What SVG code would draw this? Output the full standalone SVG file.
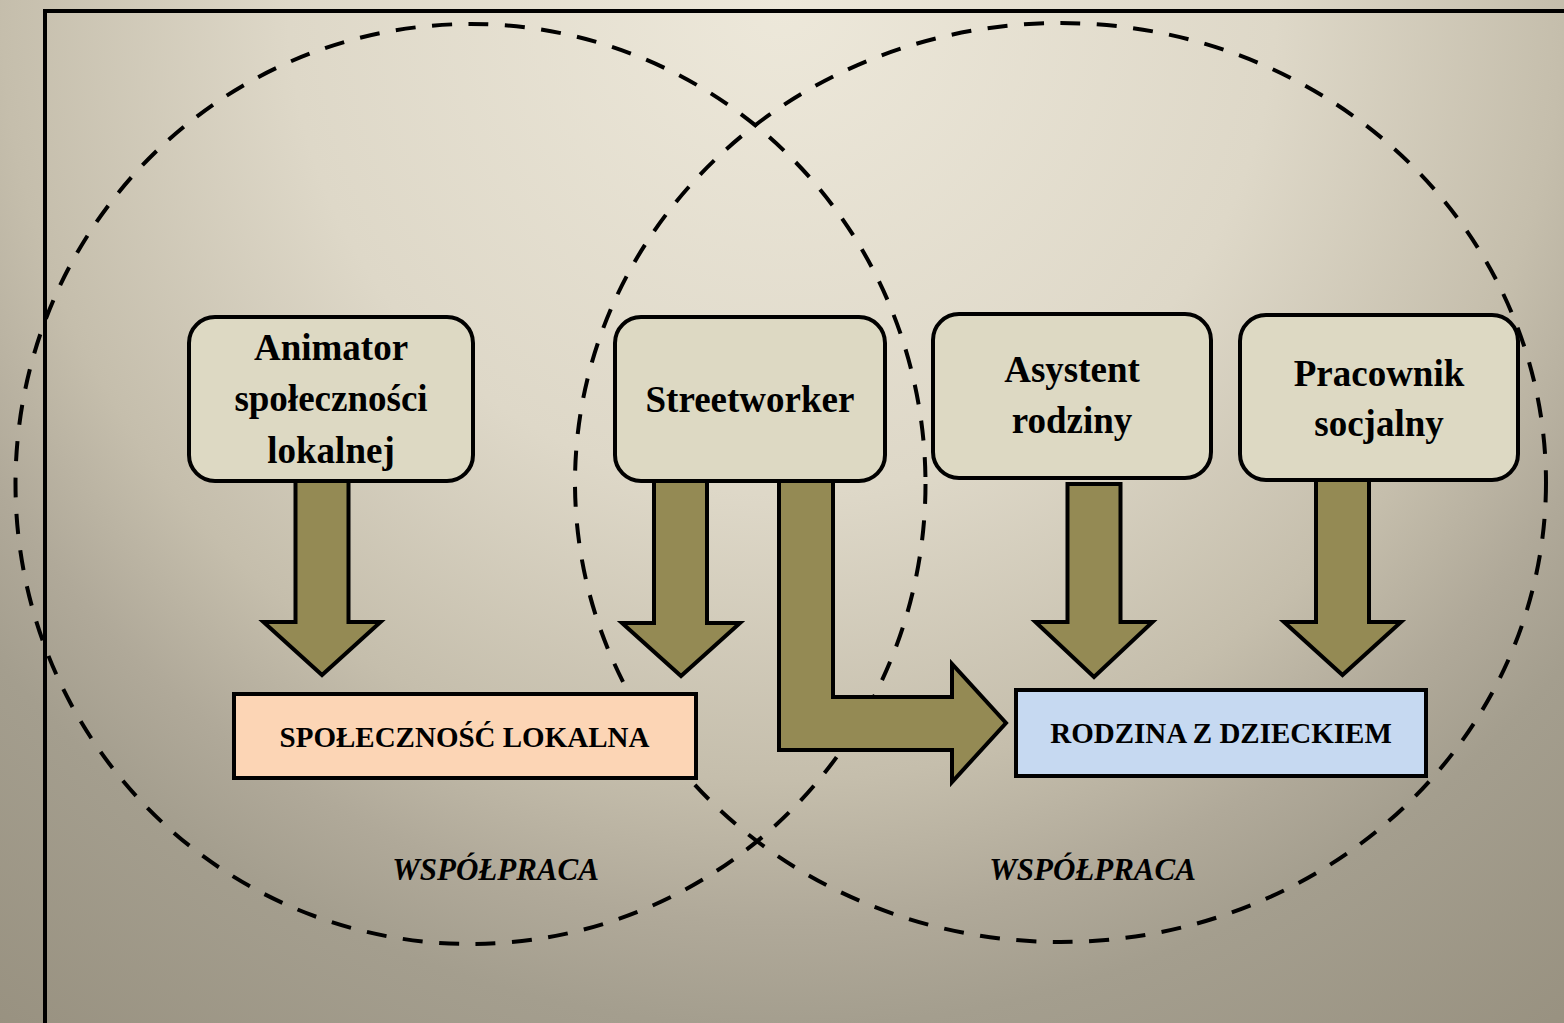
<svg xmlns="http://www.w3.org/2000/svg" width="1564" height="1023" viewBox="0 0 1564 1023">
  <defs>
    <radialGradient id="bg" gradientUnits="userSpaceOnUse" cx="782" cy="0" r="1300">
      <stop offset="0" stop-color="#EDE8DA"/>
      <stop offset="0.38" stop-color="#DED8C8"/>
      <stop offset="0.6" stop-color="#C5BEAC"/>
      <stop offset="0.71" stop-color="#B0A999"/>
      <stop offset="0.79" stop-color="#A49E8E"/>
      <stop offset="1" stop-color="#989180"/>
    </radialGradient>
  </defs>
  <style>
    .circle { fill: none; stroke: #000; stroke-width: 4; stroke-dasharray: 20 16.5; }
    .node { fill: #DDD9C3; stroke: #000; stroke-width: 4; }
    .arrow { fill: #948A54; stroke: #000; stroke-width: 4; stroke-linejoin: miter; }
    .label { font-family: "Liberation Serif", "Times New Roman", serif; font-weight: bold; font-size: 37px; fill: #000; text-anchor: middle; }
    .target-label { font-family: "Liberation Serif", "Times New Roman", serif; font-weight: bold; font-size: 29px; fill: #000; text-anchor: middle; }
    .coop { font-family: "Liberation Serif", "Times New Roman", serif; font-weight: bold; font-style: italic; font-size: 31px; fill: #000; text-anchor: middle; }
    .frame { fill: none; stroke: #000; stroke-width: 4; }
  </style>

  <rect x="0" y="0" width="1564" height="1023" fill="url(#bg)"/>
  <path class="frame" d="M45,1023 L45,11 L1564,11"/>

  <g id="circles">
    <ellipse class="circle" cx="470.5" cy="484" rx="455" ry="460"/>
    <ellipse class="circle" cx="1060.5" cy="482.5" rx="485.5" ry="459.5"/>
  </g>

  <g id="connectors">
    <polygon class="arrow" points="295.5,480 348.5,480 348.5,622 380.5,622 322,675 263.5,622 295.5,622"/>
    <polygon class="arrow" points="654,480 707,480 707,623 740,623 681,676 622,623 654,623"/>
    <polygon class="arrow" points="779,480 833,480 833,697 952,697 952,664 1006,723 952,782 952,750 779,750"/>
    <polygon class="arrow" points="1067.5,484 1120.5,484 1120.5,622 1152.5,622 1094,677 1035.5,622 1067.5,622"/>
    <polygon class="arrow" points="1316,480 1369,480 1369,622 1401,622 1342.5,675 1284,622 1316,622"/>
  </g>

  <g id="node-animator">
    <rect class="node" x="189" y="317" width="284" height="164" rx="26" ry="26"/>
    <text class="label" x="331" y="360">Animator</text>
    <text class="label" x="331" y="411">społeczności</text>
    <text class="label" x="331" y="463">lokalnej</text>
  </g>

  <g id="node-streetworker">
    <rect class="node" x="615" y="317" width="270" height="164" rx="26" ry="26"/>
    <text class="label" x="750" y="412">Streetworker</text>
  </g>

  <g id="node-asystent">
    <rect class="node" x="933" y="314" width="278" height="164" rx="26" ry="26"/>
    <text class="label" x="1072" y="382">Asystent</text>
    <text class="label" x="1072" y="433">rodziny</text>
  </g>

  <g id="node-pracownik">
    <rect class="node" x="1240" y="315" width="278" height="165" rx="26" ry="26"/>
    <text class="label" x="1379" y="386">Pracownik</text>
    <text class="label" x="1379" y="436">socjalny</text>
  </g>

  <g id="node-spolecznosc">
    <rect x="234" y="694" width="462" height="84" fill="#FCD5B5" stroke="#000" stroke-width="4"/>
    <text class="target-label" x="464.5" y="747">SPOŁECZNOŚĆ LOKALNA</text>
  </g>

  <g id="node-rodzina">
    <rect x="1016" y="690" width="410" height="86" fill="#C6D9F1" stroke="#000" stroke-width="4"/>
    <text class="target-label" x="1221" y="743">RODZINA Z DZIECKIEM</text>
  </g>

  <g id="labels">
    <text class="coop" x="495.5" y="880">WSPÓŁPRACA</text>
    <text class="coop" x="1092.5" y="880">WSPÓŁPRACA</text>
  </g>
</svg>
